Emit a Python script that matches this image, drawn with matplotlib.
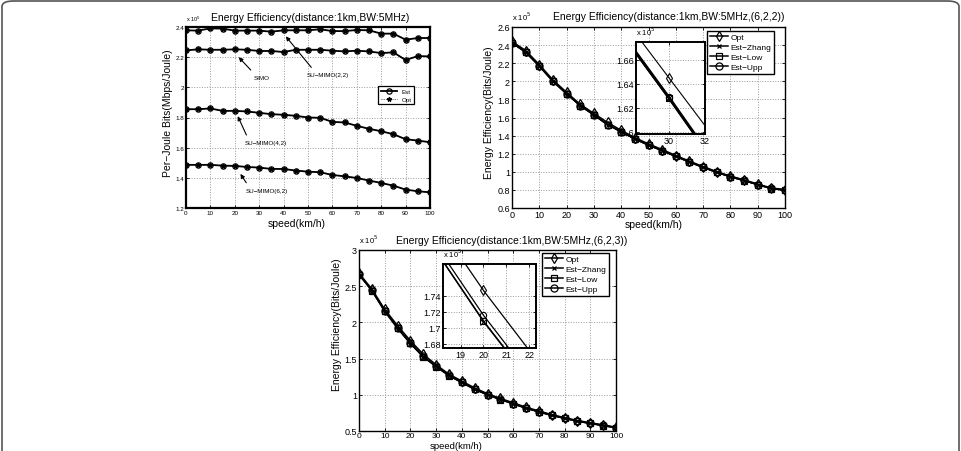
import matplotlib
matplotlib.use('Agg')
import matplotlib.pyplot as plt
from matplotlib.patches import FancyBboxPatch

plt.rcParams['font.family'] = ['Liberation Sans Narrow', 'Liberation Sans', 'DejaVu Sans']
plt.rcParams['axes.linewidth'] = 1.0

speed = list(range(0, 101, 5))

# fig (a): per-joule bits, x 10^5
est_mimo22 = [2.378, 2.376, 2.391, 2.389, 2.376, 2.376, 2.376, 2.369, 2.378, 2.378, 2.378,
              2.385, 2.373, 2.373, 2.380, 2.378, 2.356, 2.356, 2.316, 2.327, 2.327]
est_simo = [2.245, 2.252, 2.249, 2.249, 2.252, 2.249, 2.241, 2.241, 2.234, 2.249, 2.249,
            2.249, 2.243, 2.238, 2.243, 2.238, 2.227, 2.232, 2.181, 2.207, 2.205]
est_mimo42 = [1.855, 1.855, 1.860, 1.844, 1.844, 1.840, 1.831, 1.822, 1.818, 1.811, 1.800,
              1.798, 1.771, 1.767, 1.745, 1.725, 1.709, 1.689, 1.656, 1.647, 1.636]
est_mimo62 = [1.486, 1.486, 1.486, 1.481, 1.479, 1.472, 1.468, 1.459, 1.459, 1.448, 1.441,
              1.437, 1.419, 1.410, 1.399, 1.382, 1.366, 1.348, 1.322, 1.311, 1.304]
# Opt sits on top of Est at this scale
opt_mimo22 = est_mimo22
opt_simo = est_simo
opt_mimo42 = est_mimo42
opt_mimo62 = est_mimo62

# fig (b): (6,2,2), x 10^5
b_opt = [2.440, 2.340, 2.185, 2.015, 1.878, 1.745, 1.645, 1.545, 1.458, 1.378, 1.308,
         1.246, 1.180, 1.118, 1.058, 1.002, 0.953, 0.911, 0.865, 0.821, 0.804]
b_zhang = [2.425, 2.322, 2.168, 2.000, 1.862, 1.731, 1.628, 1.521, 1.442, 1.363, 1.295,
           1.234, 1.170, 1.108, 1.049, 0.994, 0.945, 0.903, 0.858, 0.815, 0.797]
b_low = [2.425, 2.322, 2.168, 2.000, 1.862, 1.731, 1.628, 1.521, 1.442, 1.363, 1.295,
         1.234, 1.170, 1.108, 1.049, 0.994, 0.945, 0.903, 0.858, 0.815, 0.797]
b_upp = [2.426, 2.323, 2.169, 2.001, 1.863, 1.732, 1.629, 1.522, 1.443, 1.364, 1.296,
         1.235, 1.171, 1.109, 1.050, 0.995, 0.946, 0.904, 0.859, 0.816, 0.798]

# fig (c): (6,2,3), x 10^5
c_opt = [2.680, 2.460, 2.180, 1.955, 1.747, 1.560, 1.415, 1.285, 1.190, 1.095, 1.015,
         0.950, 0.890, 0.828, 0.777, 0.726, 0.685, 0.645, 0.614, 0.584, 0.553]
c_zhang = [2.660, 2.440, 2.155, 1.920, 1.708, 1.525, 1.390, 1.265, 1.170, 1.075, 1.000,
           0.935, 0.875, 0.815, 0.765, 0.715, 0.675, 0.635, 0.605, 0.575, 0.545]
c_low = [2.660, 2.440, 2.155, 1.920, 1.709, 1.525, 1.390, 1.265, 1.170, 1.075, 1.000,
         0.935, 0.875, 0.815, 0.765, 0.715, 0.675, 0.635, 0.605, 0.575, 0.545]
c_upp = [2.668, 2.447, 2.162, 1.927, 1.716, 1.531, 1.396, 1.270, 1.175, 1.080, 1.004,
         0.939, 0.879, 0.818, 0.768, 0.718, 0.678, 0.638, 0.607, 0.577, 0.547]

W, H = 961, 452


def fx(x):
    return x / W


def fy(y):
    return 1 - y / H


def box(x0, y0, x1, y1):
    return [fx(x0), fy(y1), (x1 - x0) / W, (y1 - y0) / H]


def style_axes(ax, fs, spine_w=1.0):
    ax.grid(True, linestyle=':', color='#9a9a9a', linewidth=0.7)
    ax.tick_params(direction='in', top=True, right=True, length=2.5, width=0.6,
                   labelsize=fs, pad=1.5)
    for s in ax.spines.values():
        s.set_linewidth(spine_w)


fig = plt.figure(figsize=(9.61, 4.52), dpi=100)

# rounded frame of the page
frame = FancyBboxPatch((fx(2), fy(470)), (W - 4) / W, 468 / H,
                       boxstyle='round,pad=0,rounding_size=0.012',
                       transform=fig.transFigure, fill=False,
                       edgecolor='#555555', linewidth=1.2)
fig.patches.append(frame)

# ---------------- (a)
ax1 = fig.add_axes(box(186, 28, 430, 209))
for est, opt in [(est_mimo22, opt_mimo22), (est_simo, opt_simo),
                 (est_mimo42, opt_mimo42), (est_mimo62, opt_mimo62)]:
    ax1.plot(speed, est, 'k-o', lw=1.3, ms=3.8, mfc='none', mew=0.9, label='Est')
    ax1.plot(speed, opt, 'k:*', lw=0.6, ms=3.2, label='Opt')
ax1.set_xlim(0, 100)
ax1.set_ylim(1.2, 2.4)
ax1.set_xticks(range(0, 101, 10))
ax1.set_yticks([1.2, 1.4, 1.6, 1.8, 2.0, 2.2, 2.4])
ax1.set_yticklabels(['1.2', '1.4', '1.6', '1.8', '2', '2.2', '2.4'])
style_axes(ax1, 4.5, 1.6)
h, l = ax1.get_legend_handles_labels()
ax1.legend(h[:2], l[:2], loc='upper left', bbox_to_anchor=(fx(378), fy(87)),
           bbox_transform=fig.transFigure, borderaxespad=0, fontsize=4.5,
           fancybox=False, edgecolor='k', handlelength=2.6, labelspacing=0.4,
           borderpad=0.4, framealpha=1).get_frame().set_linewidth(0.9)
arrow = dict(arrowstyle='-|>', color='k', lw=0.8, mutation_scale=6)
ax1.annotate('SU\u2212MIMO(2,2)', xy=(40.9, 2.338), xytext=(58.2, 2.083), fontsize=4.5,
             ha='center', va='center', arrowprops=dict(arrow, shrinkB=0, relpos=(0.2, 1)))
ax1.annotate('SIMO', xy=(21.6, 2.20), xytext=(31, 2.066), fontsize=4.5,
             ha='center', va='center', arrowprops=dict(arrow, shrinkB=0, relpos=(0.1, 1)))
ax1.annotate('SU\u2212MIMO(4,2)', xy=(21.2, 1.809), xytext=(32.7, 1.632), fontsize=4.5,
             ha='center', va='center', arrowprops=dict(arrow, shrinkB=0, relpos=(0.1, 1)))
ax1.annotate('SU\u2212MIMO(6,2)', xy=(22.3, 1.426), xytext=(33, 1.317), fontsize=4.5,
             ha='center', va='center', arrowprops=dict(arrow, shrinkB=0, relpos=(0.1, 1)))
fig.text(fx(186), fy(24), 'x 10$^5$', fontsize=4, ha='left', va='bottom')
fig.text(fx(310), fy(18), 'Energy Efficiency(distance:1km,BW:5MHz)', fontsize=7.5,
         ha='center', va='center')
fig.text(fx(297), fy(224), 'speed(km/h)', fontsize=7.5, ha='center', va='center')
fig.text(fx(168), fy(113), 'Per\u2212Joule Bits(Mbps/Joule)', fontsize=7.5,
         rotation=90, ha='center', va='center')

series_style = [('Opt', 'd', 5.5), ('Est\u2212Zhang', 'x', 4), ('Est\u2212Low', 's', 5),
                ('Est\u2212Upp', 'o', 6)]


def draw_set(ax, data, ms_scale, lw):
    for (name, mk, ms), ys in zip(series_style, data):
        ax.plot(speed, ys, color='k', marker=mk, ms=ms * ms_scale, mfc='none', mew=0.9,
                lw=lw, label=name)


# ---------------- (b)
ax2 = fig.add_axes(box(512, 28, 785, 209))
draw_set(ax2, [b_opt, b_zhang, b_low, b_upp], 0.85, 1.1)
ax2.set_xlim(0, 100)
ax2.set_ylim(0.6, 2.6)
ax2.set_xticks(range(0, 101, 10))
ax2.set_yticks([0.6, 0.8, 1.0, 1.2, 1.4, 1.6, 1.8, 2.0, 2.2, 2.4, 2.6])
ax2.set_yticklabels(['0.6', '0.8', '1', '1.2', '1.4', '1.6', '1.8', '2', '2.2', '2.4', '2.6'])
style_axes(ax2, 6.5)
ax2.legend(loc='upper left', bbox_to_anchor=(fx(707), fy(32)), bbox_transform=fig.transFigure,
           borderaxespad=0, fontsize=6, fancybox=False, edgecolor='k', handlelength=2.2,
           labelspacing=0.25, borderpad=0.3, handletextpad=0.3,
           framealpha=1).get_frame().set_linewidth(1.0)
fig.text(fx(512), fy(23), 'x 10$^5$', fontsize=5.5, ha='left', va='bottom')
fig.text(fx(669), fy(17), 'Energy Efficiency(distance:1km,BW:5MHz,(6,2,2))', fontsize=7.5,
         ha='center', va='center')
fig.text(fx(654), fy(225), 'speed(km/h)', fontsize=7.5, ha='center', va='center')
fig.text(fx(489), fy(113), 'Energy Efficiency(Bits/Joule)', fontsize=7.5,
         rotation=90, ha='center', va='center')

in2 = fig.add_axes(box(636, 43, 705, 135))
in2.plot(speed, b_opt, color='k', marker='d', ms=5, mfc='none', mew=0.8, lw=0.8)
for ys, mk in [(b_zhang, 'x'), (b_low, 's'), (b_upp, 'o')]:
    in2.plot(speed, ys, color='k', marker=mk, ms=4.5, mfc='none', mew=0.8, lw=1.6)
in2.set_xlim(28.17, 32)
in2.set_ylim(1.598, 1.675)
in2.set_xticks([30, 32])
in2.set_yticks([1.6, 1.62, 1.64, 1.66])
in2.set_yticklabels(['1.6', '1.62', '1.64', '1.66'])
style_axes(in2, 6.5, 1.4)
fig.text(fx(636), fy(38), 'x 10$^5$', fontsize=5.5, ha='left', va='bottom')

# ---------------- (c)
ax3 = fig.add_axes(box(359, 251, 616, 432))
draw_set(ax3, [c_opt, c_zhang, c_low, c_upp], 0.85, 1.1)
ax3.set_xlim(0, 100)
ax3.set_ylim(0.5, 3.0)
ax3.set_xticks(range(0, 101, 10))
ax3.set_yticks([0.5, 1.0, 1.5, 2.0, 2.5, 3.0])
ax3.set_yticklabels(['0.5', '1', '1.5', '2', '2.5', '3'])
style_axes(ax3, 6.5)
ax3.tick_params(axis='x', pad=0.8, labelsize=6)
ax3.legend(loc='upper left', bbox_to_anchor=(fx(542), fy(254)), bbox_transform=fig.transFigure,
           borderaxespad=0, fontsize=6, fancybox=False, edgecolor='k', handlelength=2.2,
           labelspacing=0.25, borderpad=0.3, handletextpad=0.3,
           framealpha=1).get_frame().set_linewidth(1.0)
fig.text(fx(359), fy(246), 'x 10$^5$', fontsize=5.5, ha='left', va='bottom')
fig.text(fx(512), fy(241), 'Energy Efficiency(distance:1km,BW:5MHz,(6,2,3))', fontsize=7.5,
         ha='center', va='center')
fig.text(fx(456), fy(446.3), 'speed(km/h)', fontsize=6.8, ha='center', va='center')
fig.text(fx(337), fy(325), 'Energy Efficiency(Bits/Joule)', fontsize=7.5,
         rotation=90, ha='center', va='center')

in3 = fig.add_axes(box(443, 265, 536, 349))
in3.plot(speed, c_opt, color='k', marker='d', ms=5, mfc='none', mew=0.8, lw=0.9)
for ys, mk in [(c_zhang, 'x'), (c_low, 's'), (c_upp, 'o')]:
    in3.plot(speed, ys, color='k', marker=mk, ms=4.5, mfc='none', mew=0.8, lw=0.9)
in3.set_xlim(18.23, 22.3)
in3.set_ylim(1.675, 1.78)
in3.set_xticks([19, 20, 21, 22])
in3.set_yticks([1.68, 1.7, 1.72, 1.74])
in3.set_yticklabels(['1.68', '1.7', '1.72', '1.74'])
style_axes(in3, 6.5, 1.4)
fig.text(fx(443), fy(260), 'x 10$^5$', fontsize=5.5, ha='left', va='bottom')

fig.savefig('out.png', dpi=100)
